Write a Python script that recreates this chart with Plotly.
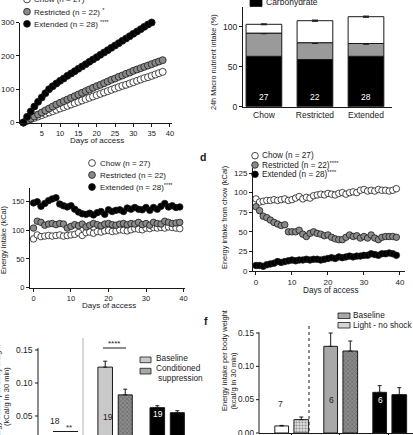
import plotly.graph_objects as go

W, H = 413, 435
FONT = "Arial, Liberation Sans, sans-serif"
INK = "#1a1a1a"
GRAY = "#8a8a8a"


def px(x):
    return x / W


def py(y):
    return 1 - y / H


# ---------------- data ----------------
# a: cumulative (days 0..38)
days_a = list(range(39))
a_chow = [0, 5, 10, 14, 18, 22, 26, 30, 34, 38, 42, 46, 50, 54, 58, 62, 66, 70, 74, 78,
          82, 86, 90, 94, 98, 102, 106, 110, 113, 117, 121, 125, 129, 133, 136, 140, 144, 148, 152]
a_restricted = [0, 6, 12, 18, 24, 30, 36, 42, 48, 54, 59, 64, 69, 74, 79, 84, 89, 94, 99, 104,
                109, 113, 118, 123, 128, 132, 137, 141, 146, 150, 155, 159, 163, 167, 171, 175, 179, 183, 187]
a_extended = [0, 17, 33, 48, 62, 75, 88, 100, 109, 117, 125, 132, 140, 147, 154, 161, 168, 175, 182, 189,
              196, 203, 210, 217, 224, 231, 238, 245, 252, 259, 266, 273, 280, 287, 294, 300, 306, 312, 318]

# b: macro nutrient intake (%)
groups = ["Chow", "Restricted", "Extended"]
b_carb = [63, 59, 63]
b_protein = [29, 21, 16]
b_fat = [11, 27.5, 33.5]
b_protein_err = [0.8, 1.0, 1.0]
b_fat_err = [0.6, 0.8, 0.8]
b_n = [27, 22, 28]

# c: energy intake (days 0..39)
days_c = list(range(40))
c_chow = [85, 92, 89, 90, 91, 90, 91, 92, 90, 91, 92, 93, 96, 91, 96, 97, 95, 98, 97, 99,
          100, 98, 99, 101, 100, 99, 101, 103, 102, 101, 104, 103, 105, 104, 105, 104, 106, 105, 104, 103]
c_restricted = [104, 116, 114, 109, 111, 112, 110, 112, 111, 104, 107, 110, 108, 111, 106, 109, 112, 110, 108, 111,
                112, 110, 109, 111, 112, 110, 112, 111, 114, 110, 112, 109, 114, 112, 111, 116, 114, 112, 113, 114]
c_extended = [148, 150, 142, 147, 152, 155, 157, 146, 143, 141, 143, 137, 132, 129, 128, 130, 127, 131, 133, 128,
              136, 133, 135, 136, 133, 139, 137, 140, 137, 136, 140, 135, 140, 137, 142, 147, 141, 143, 140, 141]

# d: energy intake from chow (days 0..39)
d_chow = [92, 88, 89, 90, 90, 91, 90, 91, 92, 90, 91, 93, 95, 92, 94, 93, 96, 97, 98, 97,
          99, 98, 97, 99, 100, 98, 100, 101, 100, 103, 104, 102, 103, 102, 104, 103, 103, 102, 103, 105]
d_restricted = [82, 77, 70, 68, 65, 62, 60, 58, 59, 50, 50, 50, 52, 47, 44, 48, 50, 48, 47, 45,
                46, 43, 41, 40, 40, 43, 46, 44, 45, 42, 44, 42, 46, 42, 40, 43, 44, 44, 44, 43]
d_extended = [7, 7, 6, 8, 9, 10, 12, 11, 12, 13, 14, 13, 14, 14, 15, 14, 15, 15, 14, 15,
              16, 17, 16, 18, 17, 18, 19, 18, 19, 19, 20, 20, 22, 21, 20, 22, 22, 23, 22, 20]

# e: conditioned suppression
e_baseline = [0.015, 0.124, 0.0626]
e_baseline_err = [0.003, 0.009, 0.003]
e_suppression = [0.006, 0.082, 0.055]
e_suppression_err = [0.002, 0.0086, 0.003]
e_n = [18, 19, 19]
e_ticks = [0.05, 0.10, 0.15]

# f: light - no shock
f_baseline = [0.0106, 0.130, 0.061]
f_baseline_err = [0.0008, 0.020, 0.010]
f_light = [0.020, 0.123, 0.0575]
f_light_err = [0.004, 0.015, 0.0105]
f_n = [7, 6, 6]
f_ticks = [0.00, 0.05, 0.10, 0.15]

# ---------------- figure ----------------
fig = go.Figure()


def sc(x, y, fill, xa, ya, size=7):
    fig.add_trace(go.Scatter(x=x, y=y, mode="markers", xaxis=xa, yaxis=ya, cliponaxis=False,
                             marker=dict(size=size, color=fill, line=dict(color=INK, width=0.8)),
                             hoverinfo="skip"))


# a
sc(days_a, a_chow, "white", "x", "y")
sc(days_a, a_restricted, GRAY, "x", "y")
sc(days_a, a_extended, "black", "x", "y")
# c
sc(days_c, c_chow, "white", "x2", "y2", 6.5)
sc(days_c, c_restricted, GRAY, "x2", "y2", 6.5)
sc(days_c, c_extended, "black", "x2", "y2", 6.5)
# d
sc(days_c, d_chow, "white", "x3", "y3", 6.5)
sc(days_c, d_restricted, GRAY, "x3", "y3", 6.5)
sc(days_c, d_extended, "black", "x3", "y3", 6.5)

# b stacked bars
base_p = b_carb
base_f = [c + p for c, p in zip(b_carb, b_protein)]
xb = list(range(len(groups)))
fig.add_trace(go.Bar(x=xb, y=b_carb, xaxis="x4", yaxis="y4", width=0.7,
                     marker=dict(color="black", line=dict(color=INK, width=1))))
fig.add_trace(go.Bar(x=xb, y=b_protein, base=base_p, xaxis="x4", yaxis="y4", width=0.7,
                     marker=dict(color="#9a9a9a", line=dict(color=INK, width=1)),
                     error_y=dict(type="data", array=b_protein_err, color=INK, thickness=1, width=3)))
fig.add_trace(go.Bar(x=xb, y=b_fat, base=base_f, xaxis="x4", yaxis="y4", width=0.7,
                     marker=dict(color="white", line=dict(color=INK, width=1)),
                     error_y=dict(type="data", array=b_fat_err, color=INK, thickness=1, width=3)))

# e bars
fig.add_trace(go.Bar(x=xb, y=e_baseline, xaxis="x5", yaxis="y5", offset=-0.33, width=0.28,
                     marker=dict(color=["white", "#c9c9c9", "black"], line=dict(color=INK, width=1)),
                     error_y=dict(type="data", symmetric=False, array=e_baseline_err,
                                  arrayminus=[0, 0, 0], color=INK, thickness=1, width=2)))
fig.add_trace(go.Bar(x=xb, y=e_suppression, xaxis="x5", yaxis="y5", offset=0.06, width=0.27,
                     marker=dict(color=["#e6e6e6", "#8c8c8c", "black"], line=dict(color=INK, width=1),
                                 pattern=dict(shape=[".", "x", ""], fgcolor=["#999999", "#444444", "black"],
                                              bgcolor=["#eeeeee", "#a0a0a0", "black"], size=3, solidity=0.4)),
                     error_y=dict(type="data", symmetric=False, array=e_suppression_err,
                                  arrayminus=[0, 0, 0], color=INK, thickness=1, width=2)))

# f bars
fig.add_trace(go.Bar(x=xb, y=f_baseline, xaxis="x6", yaxis="y6", offset=-0.33, width=0.28,
                     marker=dict(color=["white", "#a8a8a8", "black"], line=dict(color=INK, width=1)),
                     error_y=dict(type="data", symmetric=False, array=f_baseline_err,
                                  arrayminus=[0, 0, 0], color=INK, thickness=1, width=2)))
fig.add_trace(go.Bar(x=xb, y=f_light, xaxis="x6", yaxis="y6", offset=0.06, width=0.30,
                     marker=dict(color=["#dddddd", "#8c8c8c", "black"], line=dict(color=INK, width=1),
                                 pattern=dict(shape=[".", "x", ""], fgcolor=["#999999", "#444444", "black"],
                                              bgcolor=["#eeeeee", "#a0a0a0", "black"], size=3, solidity=0.4)),
                     error_y=dict(type="data", symmetric=False, array=f_light_err,
                                  arrayminus=[0, 0, 0], color=INK, thickness=1, width=2)))


def ax(domain, rng, **kw):
    d = dict(domain=domain, range=rng, showgrid=False, zeroline=False, showline=True,
             linecolor=INK, linewidth=1, ticks="outside", ticklen=3, tickwidth=1, tickcolor=INK,
             tickfont=dict(family=FONT, size=8, color=INK), fixedrange=True, automargin=False,
             ticklabeloverflow="allow")
    d.update(kw)
    return d


E_AXIS_X, F_AXIS_X = 38, 259
E_BOT, E_TOP, E_RNG = 435.0, 348.0, (0.0212, 0.153)
F_BOT, F_TOP, F_RNG = 433.0, 331.0, (0.0, 0.153)

layout = dict(
    width=W, height=H, margin=dict(l=0, r=0, t=0, b=0, pad=0, autoexpand=False),
    paper_bgcolor="white", plot_bgcolor="rgba(0,0,0,0)", showlegend=False, barmode="overlay",
    font=dict(family=FONT, color=INK),
    # a
    xaxis=ax([px(20), px(172)], [-0.93, 40.55], anchor="y", tickvals=[5, 10, 15, 20, 25, 30, 35, 40],
             tickfont=dict(family=FONT, size=7.5, color=INK)),
    yaxis=ax([py(122.5), py(22.5)], [0, 300], anchor="x", tickvals=[0, 100, 200, 300],
             tickfont=dict(family=FONT, size=8, color=INK)),
    # c
    xaxis2=ax([px(30), px(185)], [-0.93, 40.4], anchor="y2", tickvals=[0, 10, 20, 30, 40],
              tickfont=dict(family=FONT, size=7.5, color=INK)),
    yaxis2=ax([py(287.5), py(187.5)], [0, 175], anchor="x2", tickvals=[0, 50, 100, 150],
              tickfont=dict(family=FONT, size=7.5, color=INK)),
    # d
    xaxis3=ax([px(253), px(405)], [-0.83, 41.4], anchor="y3", tickvals=[0, 10, 20, 30, 40]),
    yaxis3=ax([py(271), py(168)], [0, 131.4], anchor="x3", tickvals=[0, 25, 50, 75, 100, 125]),
    # b
    xaxis4=ax([px(243), px(392)], [-0.41, 2.51], anchor="y4", tickvals=xb, ticktext=groups, ticks="",
              tickfont=dict(family=FONT, size=8.5, color=INK)),
    yaxis4=ax([py(106.7), py(6.7)], [0, 125], anchor="x4", tickvals=[0, 50, 100],
              tickfont=dict(family=FONT, size=8.5, color=INK)),
    # e
    xaxis5=ax([px(E_AXIS_X), px(200)], [-0.48, 2.63], anchor="y5", showline=False, ticks="",
              showticklabels=False),
    yaxis5=ax([py(E_BOT), py(E_TOP)], list(E_RNG), anchor="x5", showline=False, ticks="",
              showticklabels=False),
    # f
    xaxis6=ax([px(F_AXIS_X), 1.0], [-0.653, 2.49], anchor="y6", tickvals=xb, ticktext=groups,
              tickfont=dict(family=FONT, size=8, color=INK)),
    yaxis6=ax([py(F_BOT), py(F_TOP)], list(F_RNG), anchor="x6", showline=False, ticks="",
              showticklabels=False),
)
fig.update_layout(**layout)

ann = []
shapes = []


def text(x, y, s, size=8, anchor="left", color=INK, angle=0, bold=False):
    if bold:
        s = "<b>" + s + "</b>"
    ann.append(dict(x=px(x), y=py(y), xref="paper", yref="paper", text=s, showarrow=False,
                    xanchor=anchor, yanchor="middle", textangle=angle, borderpad=0,
                    font=dict(family=FONT, size=size, color=color)))


def circ(x, y, fill, r=3.4):
    shapes.append(dict(type="circle", xref="paper", yref="paper", x0=px(x - r), x1=px(x + r),
                       y0=py(y + r), y1=py(y - r), fillcolor=fill, line=dict(color=INK, width=0.8)))


def rect(x0, y0, x1, y1, fill):
    shapes.append(dict(type="rect", xref="paper", yref="paper", x0=px(x0), x1=px(x1),
                       y0=py(y1), y1=py(y0), fillcolor=fill, line=dict(color=INK, width=0.8)))


def line(x0, y0, x1, y1, color=INK, width=1, dash="solid"):
    shapes.append(dict(type="line", xref="paper", yref="paper", x0=px(x0), x1=px(x1),
                       y0=py(y0), y1=py(y1), line=dict(color=color, width=width, dash=dash)))


def value_axis(xpix, bot, top, rng, ticks, size, top_val):
    # same linear mapping as the subplot's y axis (domain bot..top, range rng)
    def ypix(v):
        return bot - (v - rng[0]) / (rng[1] - rng[0]) * (bot - top)
    line(xpix, bot, xpix, ypix(top_val))
    for v in ticks:
        yy = ypix(v)
        line(xpix - 3, yy, xpix, yy)
        ann.append(dict(x=px(xpix - 4.5), y=py(yy), xref="paper", yref="paper", text="%.2f" % v,
                        showarrow=False, xanchor="right", yanchor="middle", borderpad=0,
                        font=dict(family=FONT, size=size, color=INK)))


value_axis(E_AXIS_X, E_BOT, E_TOP, E_RNG, e_ticks, 8.5, 0.153)
value_axis(F_AXIS_X, F_BOT, F_TOP, F_RNG, f_ticks, 8.2, 0.151)

legend_labels = ["Chow (n = 27)", "Restricted (n = 22)", "Extended (n = 28)"]
fills = ["white", GRAY, "black"]

# a legend
for (lab, f, yy, st) in zip(legend_labels, fills, [-0.5, 11.7, 23.8], ["", " <sup>*</sup>", " <sup>****</sup>"]):
    circ(27, yy, f)
    text(33, yy, lab + st, 8)
text(97, 140.5, "Days of access", 8, "center")

# b legend + labels
rect(250, -3, 262, 6.5, "black")
text(265, 2, "Carbohydrate", 8.5)
text(213, 62, "24h Macro nutrient intake (%)", 7.3, "center", angle=-90)
for i, n in enumerate(b_n):
    ann.append(dict(x=i, y=12, xref="x4", yref="y4", text=str(n), showarrow=False,
                    font=dict(family=FONT, size=8.5, color="white")))

# c legend + labels
for (lab, f, yy, st) in zip(legend_labels, fills, [163, 175, 187], ["", "", "<sup>****</sup>"]):
    circ(92, yy, f)
    text(99, yy, lab + st, 8)
text(109, 305, "Days of access", 8, "center")
text(3, 240, "Energy intake (kCal)", 7.5, "center", angle=-90)

# d legend + labels
text(203, 157, "d", 10.5, "center", bold=True)
for (lab, f, yy, st) in zip(legend_labels, fills, [155.7, 165, 174.3], ["", "<sup>****</sup>", "<sup>****</sup>"]):
    circ(255, yy, f, 3.3)
    text(261, yy, lab + st, 8.2)
text(331, 290, "Days of access", 8.2, "center")
text(225, 218, "Energy intake from chow (kCal)", 7.4, "center", angle=-90)

# e annotations
line(83, 338, 83, 436, "#b0b0b0", 1)
line(53, 431.5, 78, 431.5)
text(55, 421, str(e_n[0]), 8.5, "center")
text(69, 427, "**", 8, "center")
line(103, 348, 126, 348)
text(114, 343, "****", 8, "center")
text(108, 417, str(e_n[1]), 8.5, "center")
text(158, 414, str(e_n[2]), 8.5, "center", color="white")
rect(140, 357, 151, 362.7, "#c9c9c9")
text(155, 358, "Baseline", 8.3)
rect(140, 368.3, 151, 374, "#a8a8a8")
text(155, 368, "Conditioned", 8.3)
text(157, 377.5, "suppression", 8.3)
text(6, 397, "(kCal/g in 30 min)", 7.5, "center", angle=-90)
text(-3.5, 395, "Energy intake per body weight", 7.5, "center", angle=-90)

# f annotations
text(206, 321, "f", 10.5, "center", bold=True)
line(309, 326, 309, 433, INK, 1, "dot")
rect(338, 313, 350, 318.5, "#a8a8a8")
text(352, 315, "Baseline", 8.3)
rect(338, 322.5, 350, 328, "#d5d5d5")
text(352, 324.5, "Light - no shock", 8.3)
text(280, 404, str(f_n[0]), 8.5, "center")
text(331, 400, str(f_n[1]), 8.5, "center")
text(380, 400, str(f_n[2]), 8.5, "center", color="white")
text(224, 360, "Energy intake per body weight", 7.5, "center", angle=-90)
text(232.5, 381, "(kcal/g in 30 min)", 7.5, "center", angle=-90)

fig.update_layout(annotations=ann, shapes=shapes)
fig.write_html("out.html")
